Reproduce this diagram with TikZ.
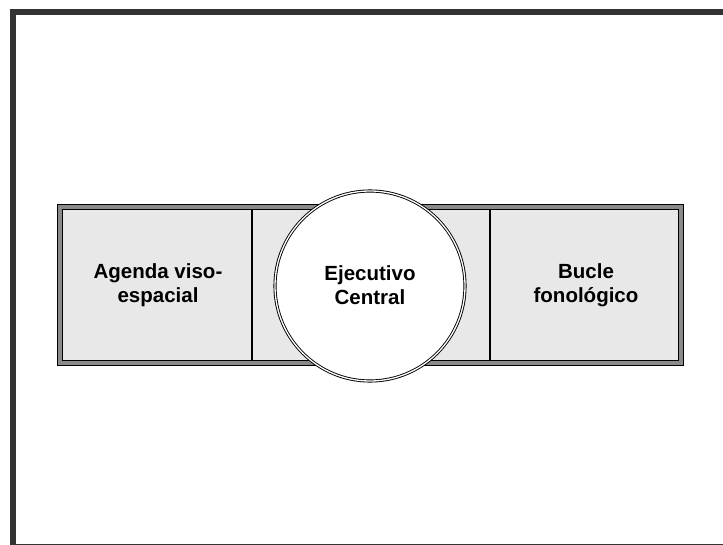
\documentclass[tikz,border=0pt]{standalone}
\usepackage{fontspec}
\setmainfont{Liberation Sans}
\definecolor{framec}{HTML}{333333}
\definecolor{boxfill}{HTML}{E8E8E8}
\definecolor{midgray}{HTML}{8A8A8A}
\tikzset{
  lbl/.style={font=\fontsize{20.5}{24.5}\selectfont\bfseries, align=center, text=black},
}
\begin{document}
\begin{tikzpicture}[x=1pt,y=-1pt]
\useasboundingbox (0,0) rectangle (723,545);
\begin{scope}
\clip (0,0) rectangle (723,545);
\draw[framec, line width=6pt] (13,12) rectangle (760,546.5);
\end{scope}
% main box
\draw[midgray, line width=5pt, fill=boxfill] (59.5,207.5) rectangle (680.5,362.5);
\draw[black, line width=1pt] (57,205) rectangle (683,365);
\draw[black, line width=1pt] (62,210) rectangle (678,360);
\fill[boxfill] (62.5,210.5) rectangle (677.5,359.5);
% dividers
\coordinate (d1t) at (252,210);
\coordinate (d1b) at (252,360);
\coordinate (d2t) at (490,210);
\coordinate (d2b) at (490,360);
\draw[black, line width=1.4pt] (d1t) -- (d1b);
\draw[black, line width=1.4pt] (d2t) -- (d2b);
% circle
\node[circle, minimum size=190pt, inner sep=0pt, fill=white, draw=black, line width=0.9pt, double=white, double distance=1.3pt] (ce) at (370,286) {};
\node[lbl] (ec) at (370,285) {Ejecutivo\\Central};
\node[lbl] (av) at (158,285) {Agenda viso-\\espacial};
\node[lbl] (bf) at (586,285) {Bucle\\fonológico};
\end{tikzpicture}
\end{document}
